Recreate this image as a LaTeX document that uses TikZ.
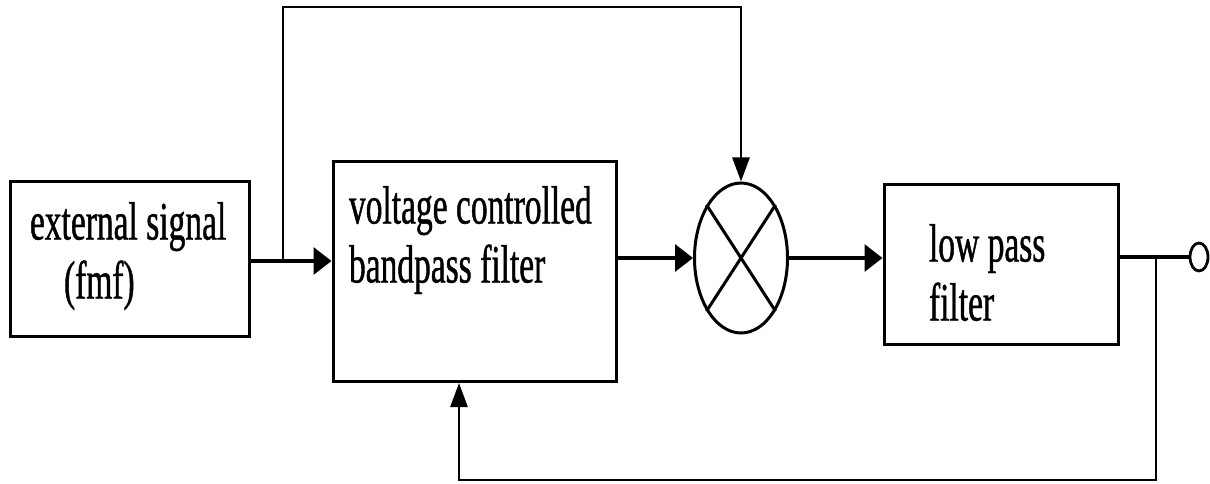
\documentclass[tikz,border=0pt]{standalone}
\usepackage{fontspec}
\newfontfamily\diagfont[FakeStretch=0.62, FakeBold=0.8]{Liberation Serif}
\newcommand\tightspace{\spaceskip=8.5pt\relax}
\usetikzlibrary{shapes.geometric, arrows.meta}

\begin{document}
\begin{tikzpicture}[
    x=1pt, y=-1pt,
    box/.style = {
        rectangle,
        draw,
        line width=3pt,
        anchor=north,
        inner ysep=0pt,
        align=left,
        font=\diagfont\fontsize{54}{59}\selectfont,
        execute at begin node=\tightspace
    },
    mixer/.style = {
        ellipse,
        draw,
        line width=3pt,
        minimum width=93pt,
        minimum height=150pt,
        inner sep=0pt
    },
    port/.style = {ellipse, draw, line width=2.8pt, minimum width=18pt, minimum height=28pt, inner sep=0pt},
    wire/.style = {line width=3.3pt},
    arrow/.style = {wire, -{Triangle[length=18pt, width=27pt]}},
    fbline/.style = {line width=2.7pt},
    fbarrow/.style = {fbline, -{Triangle[length=24pt, width=17pt]}}
]
\useasboundingbox (0,0) rectangle (1210,484);

%% Blocks
\node[box, text width=199pt, inner xsep=20pt, text height=58pt, text depth=97pt] (ext) at (129.5,180) {
    external signal\\
    \hspace*{34pt}(fmf)
};

\node[box, text width=251pt, inner xsep=16pt, text height=62pt, text depth=158pt] (vcf) at (474.5,160) {
    voltage controlled\\
    bandpass filter
};

\node[mixer] (mix) at (741,258) {};
\draw[line width=3pt] (mix.57) -- (mix.237) (mix.123) -- (mix.303);

\node[box, text width=144pt, inner xsep=45pt, text height=77pt, text depth=83pt] (lpf) at (1001,183) {
    low pass\\
    filter
};

\node[port] (out) at (1199,257) {};

%% Branch points
\coordinate (split1) at (283,261);
\coordinate (fbtop) at (283,7);
\coordinate (split2) at (1156,257);
\coordinate (fbbot) at (459,480);

%% Signal path
\draw[arrow] (ext.east |- split1) -- (vcf.west |- split1);
\draw[arrow] (vcf.east |- mix.west) -- (mix.west);
\draw[arrow] (mix.east) -- (lpf.west |- mix.east);
\draw[wire] (lpf.east |- out.west) -- (out.west);

%% Feedback paths
\draw[fbarrow] (split1) -- (fbtop) -| (mix.north);
\draw[fbarrow] (split2) |- (fbbot) -- (fbbot |- vcf.south);

\end{tikzpicture}
\end{document}
